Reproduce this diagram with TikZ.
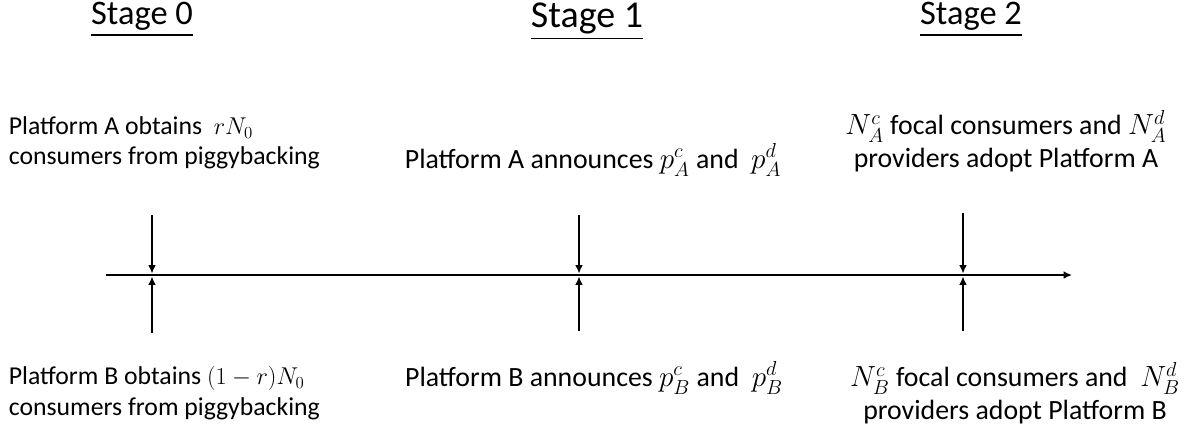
\documentclass[tikz,border=0pt]{standalone}
\usepackage{amsmath}
\usepackage{fontspec}
\setmainfont{Carlito}
\usepackage{tikz}
\usetikzlibrary{arrows.meta}
\usetikzlibrary{positioning}

\begin{document}
\begin{tikzpicture}[x=0.025cm,y=-0.025cm,>={Latex[length=6pt,width=5.5pt]},line width=1.3pt,
                    stage node/.style={inner sep=0pt,anchor=base,font=\fontsize{24.5}{28}\selectfont},
                    event node/.style={inner sep=0pt,font=\fontsize{18.3}{21.5}\selectfont},
                    wide event/.style={event node,font=\fontsize{19.8}{23}\selectfont}]
    \useasboundingbox (0,0) rectangle (1202,430);
    % stage headings
    \node[stage node] (stage0) at (142,24) {\underline{Stage 0}};
    \node[stage node,font=\fontsize{27}{31}\selectfont] (stage1) at (587,27) {\underline{Stage 1}};
    \node[stage node] (stage2) at (971,24) {\underline{Stage 2}};

    % time line
    \coordinate (start) at (106,275);
    \coordinate (end) at (1072,275);
    \draw[->,line width=1.1pt] (start) -- (end);

    \coordinate (top0) at (152,215);
    \coordinate (mid0) at (152,275);
    \coordinate (bot0) at (152,333);
    \coordinate (top1) at (579,215);
    \coordinate (mid1) at (579,275);
    \coordinate (bot1) at (579,331);
    \coordinate (top2) at (963,213);
    \coordinate (mid2) at (963,275);
    \coordinate (bot2) at (963,331);

    \path[->,shorten >=1pt]
        (top0) edge (mid0)
        (bot0) edge (mid0)
        (top1) edge (mid1)
        (bot1) edge (mid1)
        (top2) edge (mid2)
        (bot2) edge (mid2);

    % platform A
    \node[event node,anchor=west,align=left] (obtainA) at (8,143)
        {Platform A obtains~ $rN_0$\\consumers from piggybacking};
    \node[wide event] (announceA) at (593,160)
        {Platform A announces $p^c_A$ and~ $p^d_A$};
    \node[wide event,align=center] (adoptA) at (1006,141)
        {$N^c_A$ focal consumers and $N^d_A$\\providers adopt Platform A};

    % platform B
    \node[event node,anchor=west,align=left] (obtainB) at (8,393)
        {Platform B obtains $(1-r)N_0$\\consumers from piggybacking};
    \node[wide event] (announceB) at (594,378)
        {Platform B announces $p^c_B$ and~ $p^d_B$};
    \node[wide event,align=center] (adoptB) at (1015,393)
        {$N^c_B$ focal consumers and~ $N^d_B$\\providers adopt Platform B};
\end{tikzpicture}
\end{document}
